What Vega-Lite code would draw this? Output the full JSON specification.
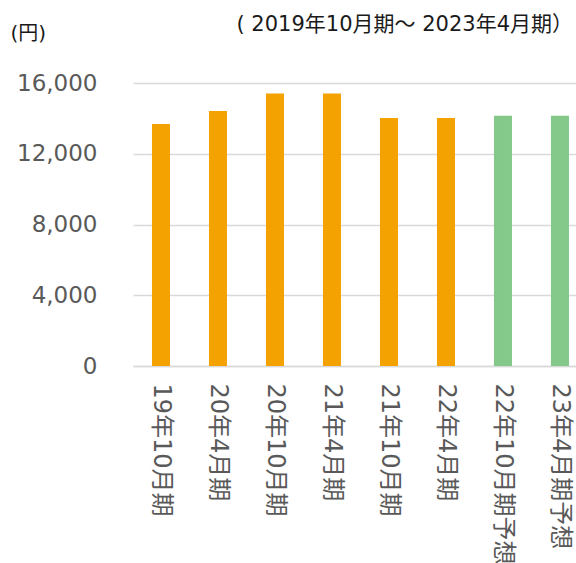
{
  "$schema": "https://vega.github.io/schema/vega-lite/v6.json",
  "width": 443,
  "height": 283,
  "autosize": {"type": "none"},
  "padding": {"left": 133, "top": 83, "right": 0, "bottom": 197},
  "background": "white",
  "title": {
    "text": "( 2019年10月期～  2023年4月期）",
    "anchor": "end",
    "frame": "group",
    "font": "DejaVu Sans, Noto Sans CJK JP",
    "fontSize": 21,
    "fontWeight": "normal",
    "color": "#1a1a1a",
    "baseline": "bottom",
    "offset": -33,
    "dx": -3
  },
  "data": {
    "values": [
      {"period": "19年10月期", "value": 13680, "type": "実績"},
      {"period": "20年4月期", "value": 14420, "type": "実績"},
      {"period": "20年10月期", "value": 15400, "type": "実績"},
      {"period": "21年4月期", "value": 15400, "type": "実績"},
      {"period": "21年10月期", "value": 14020, "type": "実績"},
      {"period": "22年4月期", "value": 14020, "type": "実績"},
      {"period": "22年10月期予想", "value": 14150, "type": "予想"},
      {"period": "23年4月期予想", "value": 14150, "type": "予想"}
    ]
  },
  "mark": {"type": "bar"},
  "encoding": {
    "x": {
      "field": "period",
      "type": "nominal",
      "sort": null,
      "scale": {"paddingInner": 0.684, "paddingOuter": 0.228, "align": 0.73},
      "axis": {
        "title": null,
        "labelAngle": 90,
        "labelAlign": "left",
        "labelBaseline": "middle",
        "labelPadding": 17,
        "labelFont": "DejaVu Sans, Noto Sans CJK JP",
        "labelFontSize": 24,
        "labelColor": "#595959",
        "labelLimit": 0,
        "ticks": false,
        "domainColor": "#d9d9d9",
        "domainWidth": 1.5
      }
    },
    "y": {
      "field": "value",
      "type": "quantitative",
      "scale": {"domain": [0, 16000], "nice": false},
      "axis": {
        "values": [0, 4000, 8000, 12000, 16000],
        "format": ",d",
        "title": "(円)",
        "titleAngle": 0,
        "titleAlign": "left",
        "titleBaseline": "top",
        "titleX": -123,
        "titleY": -60,
        "titleFont": "DejaVu Sans, Noto Sans CJK JP",
        "titleFontSize": 20,
        "titleFontWeight": "normal",
        "titleColor": "#1a1a1a",
        "labelFont": "DejaVu Sans",
        "labelFontSize": 23,
        "labelColor": "#595959",
        "labelPadding": 36,
        "ticks": false,
        "domain": false,
        "grid": true,
        "gridColor": "#d9d9d9",
        "gridWidth": 1.5
      }
    },
    "color": {
      "field": "type",
      "type": "nominal",
      "scale": {"domain": ["実績", "予想"], "range": ["#F4A102", "#84C88A"]},
      "legend": null
    }
  },
  "config": {"view": {"stroke": null}}
}
